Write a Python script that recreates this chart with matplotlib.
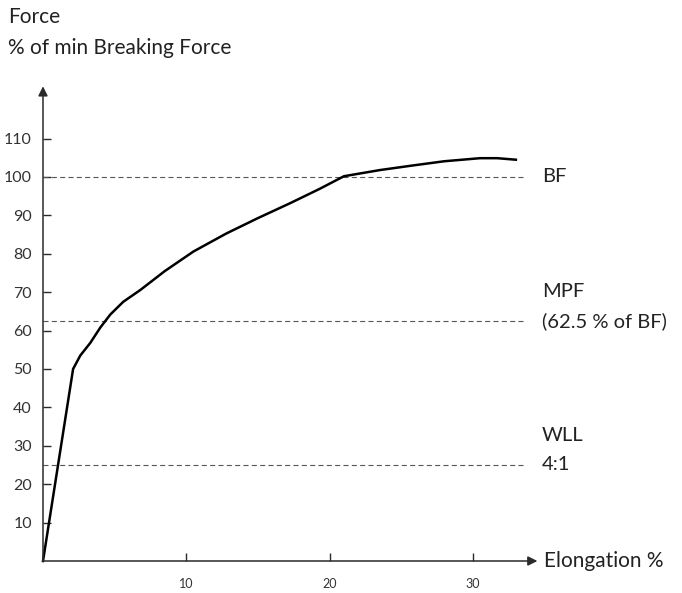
import matplotlib
matplotlib.use("Agg")
import matplotlib.pyplot as plt

plt.rcParams['font.family'] = ['Lato', 'DejaVu Sans']
plt.rcParams['lines.scale_dashes'] = False

# curve
elongation = [0, 2.1, 2.6, 3.3, 4.0, 4.7, 5.6, 6.8, 8.5, 10.5, 12.8, 15.0, 17.2,
              19.3, 21.0, 23.5, 25.8, 28.0, 30.5, 31.7, 33.0]
force = [0, 50, 53.5, 56.8, 60.8, 64.2, 67.5, 70.6, 75.5, 80.6, 85.3, 89.3, 93.1,
         96.9, 100.2, 101.8, 103.0, 104.1, 104.9, 104.9, 104.5]

levels = [100, 62.5, 25]
level_labels = ["BF", "MPF\n(62.5 % of BF)", "WLL\n4:1"]
yticks = [10, 20, 30, 40, 50, 60, 70, 80, 90, 100, 110]
xticks = [10, 20, 30]

W, H = 682, 593
fig = plt.figure(figsize=(W / 100, H / 100), dpi=100)
x0, y0 = 43, 561          # origin in pixels (from top)
px_x, px_y = 14.33, 3.84  # pixels per unit
xmax, ymax = 34.5, 123
ax = fig.add_axes([x0 / W, (H - y0) / H, xmax * px_x / W, ymax * px_y / H])
ax.set_xlim(0, xmax)
ax.set_ylim(0, ymax)

for s in ax.spines.values():
    s.set_visible(False)

axcol = '#2a2a2a'
txtcol = '#222222'
ax.annotate('', xy=(1, 0), xytext=(0, 0), xycoords='axes fraction',
            arrowprops=dict(arrowstyle='-|>', color=axcol, lw=1.1,
                            mutation_scale=14, shrinkA=0, shrinkB=0))
ax.annotate('', xy=(0, 1.005), xytext=(0, 0), xycoords='axes fraction',
            arrowprops=dict(arrowstyle='-|>', color=axcol, lw=1.1,
                            mutation_scale=14, shrinkA=0, shrinkB=0))

ax.set_yticks(yticks)
ax.set_xticks(xticks)
ax.tick_params(axis='y', direction='in', length=6, width=1, color=axcol,
               labelsize=11.5, labelcolor='#333333', pad=8)
ax.tick_params(axis='x', direction='in', length=6, width=1, color=axcol,
               labelsize=9, labelcolor='#333333', pad=12)

for lv, lab in zip(levels, level_labels):
    ax.plot([0, 33.6], [lv, lv], color='#555555', lw=0.8, dashes=(3.6, 2.4))
    lines = lab.split("\n")
    ax.text(34.8, lv, lines[-1], fontsize=14.5, color=txtcol, va='center',
            clip_on=False)
    if len(lines) > 1:
        ax.text(34.8, lv + 7.6, lines[0], fontsize=14.5, color=txtcol, va='center',
                clip_on=False)

ax.plot(elongation, force, color='black', lw=1.8, solid_joinstyle='round', clip_on=False)

ax.text(xmax + 0.45, 0, "Elongation %", fontsize=15, color=txtcol,
        va='center', ha='left', clip_on=False)

fig.text(8 / W, 1 - 17 / H, "Force", fontsize=15, color=txtcol, va='center')
fig.text(8 / W, 1 - 48 / H, "% of min Breaking Force", fontsize=15,
         color=txtcol, va='center')

fig.savefig("out.png", dpi=100)
